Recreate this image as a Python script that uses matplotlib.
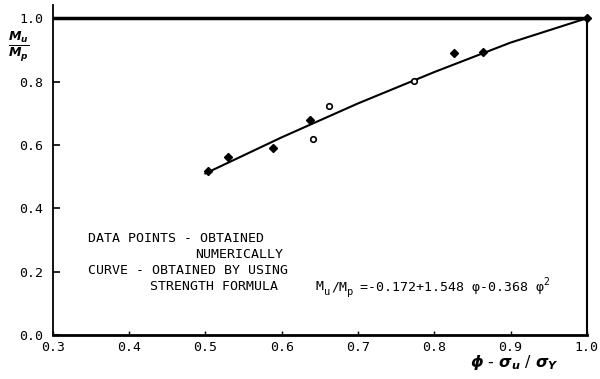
import matplotlib
matplotlib.use("Agg")
import matplotlib.pyplot as plt

plt.rcParams['mathtext.fontset'] = 'custom'
plt.rcParams['mathtext.it'] = 'DejaVu Sans:bold:italic'
plt.rcParams['mathtext.rm'] = 'DejaVu Sans:bold'
plt.rcParams['mathtext.bf'] = 'DejaVu Sans:bold'

# data points
filled_phi = [0.503, 0.530, 0.588, 0.637, 0.826, 0.864, 1.0]
filled_m = [0.518, 0.562, 0.590, 0.679, 0.889, 0.893, 1.0]
open_phi = [0.641, 0.662, 0.774]
open_m = [0.619, 0.723, 0.802]
# curve (strength formula)
curve_phi = [0.5, 0.6, 0.7, 0.8, 0.9, 1.0]
curve_m = [0.510, 0.624, 0.731, 0.830, 0.923, 1.0]

xticks = [0.3, 0.4, 0.5, 0.6, 0.7, 0.8, 0.9, 1.0]
yticks = [0.0, 0.2, 0.4, 0.6, 0.8, 1.0]

W, H = 600, 379
fig = plt.figure(figsize=(W / 100, H / 100), dpi=100)
ax = fig.add_axes([0.088, 0.116, 0.89, 0.871])
ax.set_xlim(0.3, 1.0)
ax.set_ylim(0.0, 1.042)

mono = 'DejaVu Sans Mono'
ax.set_xticks(xticks)
ax.set_xticklabels([f"{v:.1f}" for v in xticks], family=mono, fontsize=9.5)
ax.set_yticks(yticks)
ax.set_yticklabels([f"{v:.1f}" for v in yticks], family=mono, fontsize=9.5)
ax.tick_params(axis='y', direction='in', length=5, width=1.2, pad=7)
ax.tick_params(axis='x', direction='in', length=3, width=1.0, pad=4)

for s in ['top', 'right']:
    ax.spines[s].set_visible(False)
ax.spines['left'].set_linewidth(1.3)
ax.spines['bottom'].set_linewidth(2.0)

# top line at 1.0 and right boundary at phi = 1.0
ax.plot([0.3, 1.0], [1.0, 1.0], color='black', lw=2.5, clip_on=False, solid_capstyle='butt')
ax.plot([1.0, 1.0], [0.0, 1.0], color='black', lw=1.5, clip_on=False)

ax.plot(curve_phi, curve_m, color='black', lw=1.5)
ax.plot(filled_phi, filled_m, 'D', color='black', ms=4, clip_on=False)
ax.plot(open_phi, open_m, 'o', mfc='white', mec='black', mew=1.2, ms=4)


def px(x, y):
    return x / W, 1 - y / H


# y label as fraction
fig.text(*px(19, 47), r'$\frac{M_u}{M_p}$', ha='center', va='center', fontsize=13)
# x label
fig.text(*px(514, 362), r'$\phi$ - $\sigma_u$ / $\sigma_Y$', ha='center', va='center',
         fontsize=11.5)

# annotation
tk = dict(family=mono, fontsize=9.5, va='center', ha='left')
fig.text(*px(88, 238), 'DATA POINTS - OBTAINED', **tk)
fig.text(*px(195, 254), 'NUMERICALLY', **tk)
fig.text(*px(88, 270), 'CURVE - OBTAINED BY USING', **tk)
fig.text(*px(150, 287), 'STRENGTH FORMULA', **tk)

fy = 287
fk = dict(family=mono, va='center', ha='left')
fig.text(*px(316, fy), 'M', fontsize=9.5, **fk)
fig.text(*px(324, fy + 5), 'u', fontsize=7.5, **fk)
fig.text(*px(331, fy), '/M', fontsize=9.5, **fk)
fig.text(*px(347, fy + 5), 'p', fontsize=7.5, **fk)
fig.text(*px(360, fy), '=-0.172+1.548 \u03c6-0.368 \u03c6', fontsize=9.5, **fk)
fig.text(*px(543, fy - 5), '2', fontsize=7, **fk)

fig.savefig('out.png', dpi=100)
